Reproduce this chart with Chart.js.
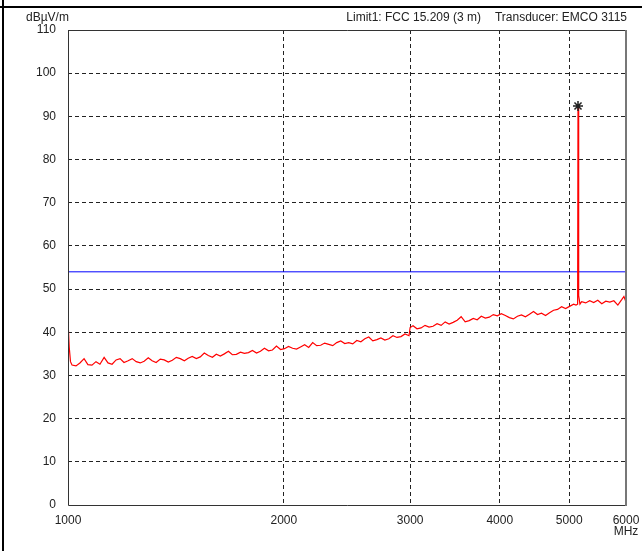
<!DOCTYPE html>
<html>
<head>
<meta charset="utf-8">
<script src="https://cdn.jsdelivr.net/npm/chart.js@4/dist/chart.umd.min.js"></script>
<style>
  html, body { margin: 0; padding: 0; background: #fff; }
  #wrap { position: relative; width: 642px; height: 551px; }
</style>
</head>
<body>
<div id="wrap"><canvas id="spectrum" width="642" height="551"></canvas></div>
<script>
// scan data (MHz / dBµV/m)
const freqs = [
  1000, 1004, 1008, 1013, 1026, 1039, 1053, 1066, 1080, 1094, 1108, 1123, 1137, 1152, 1167, 1182,
  1197, 1213, 1229, 1245, 1261, 1277, 1294, 1310, 1327, 1345, 1362, 1380, 1398, 1416, 1434, 1453,
  1471, 1490, 1510, 1529, 1549, 1569, 1590, 1610, 1631, 1652, 1674, 1695, 1717, 1740, 1762, 1785,
  1808, 1832, 1855, 1879, 1904, 1928, 1953, 1979, 2004, 2030, 2057, 2083, 2110, 2138, 2166, 2194,
  2222, 2251, 2280, 2310, 2340, 2370, 2401, 2432, 2463, 2495, 2528, 2561, 2594, 2627, 2661, 2696,
  2731, 2766, 2802, 2839, 2876, 2913, 2951, 2989, 3000, 3028, 3067, 3107, 3147, 3188, 3229, 3271,
  3314, 3357, 3400, 3444, 3489, 3534, 3580, 3627, 3674, 3721, 3770, 3819, 3868, 3918, 3969, 4021,
  4073, 4126, 4179, 4234, 4289, 4344, 4401, 4458, 4516, 4574, 4634, 4694, 4755, 4816, 4879, 4942,
  5006, 5071, 5110, 5137, 5143, 5150, 5158, 5175, 5204, 5271, 5340, 5409, 5480, 5551, 5623, 5696,
  5770, 5845, 5921, 5960, 6000
];
const levels = [
  42.8, 36.5, 33.2, 32.4, 32.2, 32.9, 33.9, 32.5, 32.4, 33.2, 32.6, 34.2, 32.9, 32.6, 33.6, 33.9,
  33.0, 33.4, 33.9, 33.2, 32.9, 33.3, 34.1, 33.4, 33.0, 33.8, 33.6, 33.1, 33.5, 34.2, 33.9, 33.4,
  34.0, 34.4, 33.9, 34.3, 35.2, 34.6, 34.2, 34.9, 34.5, 35.0, 35.6, 34.8, 34.9, 35.4, 35.1, 35.3,
  35.8, 35.2, 35.6, 36.3, 35.7, 35.9, 36.8, 36.0, 36.2, 36.7, 36.3, 36.1, 36.6, 37.1, 36.5, 37.6,
  36.9, 37.0, 37.5, 37.2, 36.9, 37.6, 38.0, 37.4, 37.6, 37.3, 38.1, 37.8, 38.5, 38.9, 38.0, 38.3,
  38.7, 38.2, 38.5, 39.2, 38.8, 39.0, 39.6, 39.2, 41.1, 41.5, 40.8, 41.0, 41.6, 41.2, 41.4, 42.0,
  41.6, 42.4, 41.9, 42.3, 42.8, 43.6, 42.4, 42.7, 43.2, 42.9, 43.7, 43.3, 43.5, 44.1, 43.8, 44.3,
  43.9, 43.4, 43.1, 43.7, 44.0, 43.6, 44.2, 44.8, 44.1, 44.4, 43.9, 44.5, 45.1, 45.3, 45.9, 45.5,
  46.0, 46.5, 46.3, 46.5, 92.4, 52.5, 48.5, 46.5, 47.1, 46.8, 47.3, 46.9, 47.4, 46.6, 47.2, 47.0,
  47.3, 46.3, 47.6, 48.3, 47.0
];
const limitFreqs = [1000, 6000];
const limitLevels = [54, 54];
const markerFreq = [5143];
const markerLevel = [92.4];
const xTicks = [1000, 2000, 3000, 4000, 5000, 6000];
const yTicks = [0, 10, 20, 30, 40, 50, 60, 70, 80, 90, 100, 110];

const FONT = 'Liberation Sans, Arial, sans-serif';

const framePlugin = {
    id: 'frame',
    afterDraw: (chart) => {
        const ctx = chart.ctx;
        const a = chart.chartArea;
        ctx.save();
        // outer page frame
        ctx.strokeStyle = '#000';
        ctx.lineWidth = 2;
        ctx.beginPath();
        ctx.moveTo(0, 7); ctx.lineTo(642, 7);
        ctx.moveTo(3, 0); ctx.lineTo(3, 551);
        ctx.stroke();
        // plot border
        ctx.lineWidth = 1;
        ctx.strokeStyle = '#333';
        ctx.beginPath();
        ctx.moveTo(a.left + 0.5, a.top + 0.5);
        ctx.lineTo(a.right, a.top + 0.5);
        ctx.moveTo(a.left + 0.5, a.top);
        ctx.lineTo(a.left + 0.5, a.bottom + 0.5);
        ctx.lineTo(a.right, a.bottom + 0.5);
        ctx.stroke();
        ctx.lineWidth = 2;
        ctx.strokeStyle = '#777';
        ctx.beginPath();
        ctx.moveTo(a.right, a.top);
        ctx.lineTo(a.right, a.bottom + 1);
        ctx.stroke();
        // header texts
        ctx.fillStyle = '#222';
        ctx.font = '12px ' + FONT;
        ctx.textBaseline = 'middle';
        ctx.textAlign = 'left';
        ctx.fillText('dBµV/m', 26, 18);
        ctx.textAlign = 'right';
        ctx.fillText('Limit1: FCC 15.209 (3 m)', 481, 18);
        ctx.fillText('Transducer: EMCO 3115', 627, 18);
        ctx.textAlign = 'center';
        ctx.fillText('MHz', 626, 532);
        ctx.restore();
    }
};

const innerGrid = (lo, hi) => (c) =>
    (c.tick && (c.tick.value === lo || c.tick.value === hi)) ? 'rgba(0,0,0,0)' : '#222';

new Chart(document.getElementById('spectrum').getContext('2d'), {
    type: 'line',
    data: {
        datasets: [
            {
                label: 'Marker',
                data: markerFreq.map((f, i) => ({ x: f, y: markerLevel[i] })),
                showLine: false,
                pointStyle: 'star',
                pointRadius: 5,
                borderColor: '#222',
                backgroundColor: '#222',
                borderWidth: 1.5
            },
            {
                label: 'Scan',
                data: freqs.map((f, i) => ({ x: f, y: levels[i] })),
                borderColor: '#ff0000',
                borderWidth: 1.2,
                pointRadius: 0,
                tension: 0
            },
            {
                label: 'Limit1',
                data: limitFreqs.map((f, i) => ({ x: f, y: limitLevels[i] })),
                borderColor: '#0000ff',
                borderWidth: 1,
                pointRadius: 0
            }
        ]
    },
    options: {
        responsive: false,
        animation: false,
        layout: { padding: { top: 30, right: 16, left: 0, bottom: 0 } },
        plugins: {
            legend: { display: false },
            tooltip: { enabled: false }
        },
        scales: {
            x: {
                type: 'logarithmic',
                min: 1000,
                max: 6000,
                afterBuildTicks: (s) => { s.ticks = xTicks.map(v => ({ value: v })); },
                afterFit: (s) => { s.height = 46; s.paddingLeft = 0; s.paddingRight = 0; },
                ticks: {
                    autoSkip: false,
                    maxRotation: 0,
                    color: '#222',
                    font: { family: FONT, size: 12 },
                    padding: 8,
                    callback: (v) => String(v)
                },
                grid: { color: innerGrid(1000, 6000), lineWidth: 1, drawTicks: false },
                border: { display: false, dash: [4, 3] }
            },
            y: {
                min: 0,
                max: 110,
                afterBuildTicks: (s) => { s.ticks = yTicks.map(v => ({ value: v })); },
                afterFit: (s) => { s.width = 68; s.paddingTop = 0; s.paddingBottom = 0; },
                ticks: {
                    color: '#222',
                    font: { family: FONT, size: 12 },
                    padding: 12
                },
                grid: { color: innerGrid(0, 110), lineWidth: 1, drawTicks: false },
                border: { display: false, dash: [4, 3] }
            }
        }
    },
    plugins: [framePlugin]
});
</script>
</body>
</html>
